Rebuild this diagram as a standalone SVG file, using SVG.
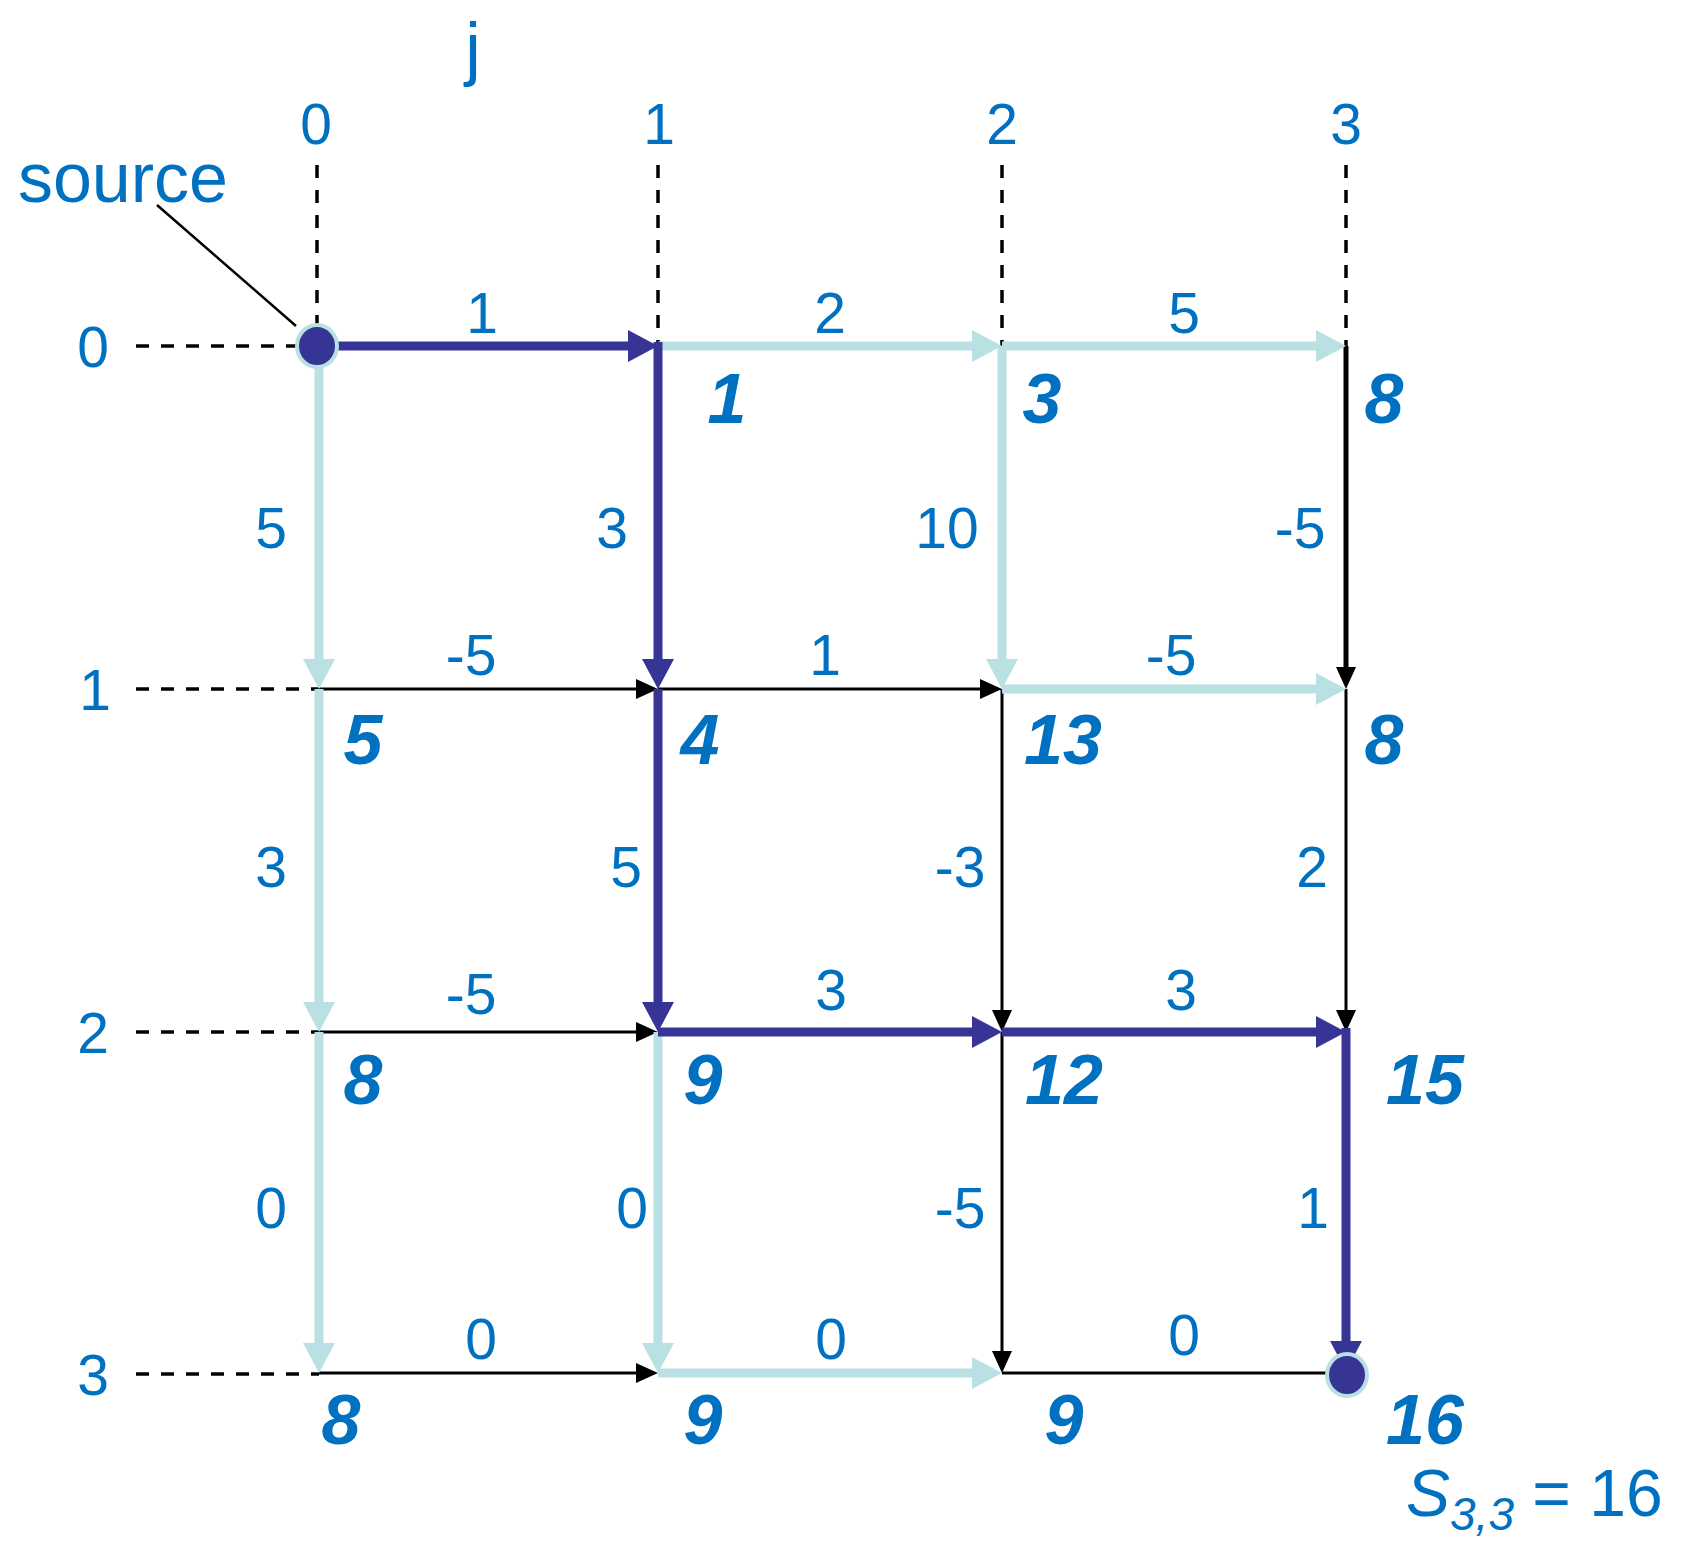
<svg xmlns="http://www.w3.org/2000/svg" width="1681" height="1548" viewBox="0 0 1681 1548">
<style>
.w{font-family:"Liberation Sans",Arial,sans-serif;font-size:57px;fill:#0070C0;text-anchor:middle}
.v{font-family:"Liberation Sans",Arial,sans-serif;font-size:70px;font-weight:bold;font-style:italic;fill:#0070C0;text-anchor:middle}
.guide{stroke:#000;stroke-width:3.5;stroke-dasharray:13 12;fill:none}
.dk{stroke:#363596;stroke-width:9;fill:none}
.lt{stroke:#B9E0E2;stroke-width:9;fill:none}
.bk{stroke:#000;stroke-width:3;fill:none}
.bk5{stroke:#000;stroke-width:5;fill:none}
.dot{fill:#363596;stroke:#B9E0E2;stroke-width:4}
</style>
<defs>
<marker id="aDk" markerUnits="userSpaceOnUse" markerWidth="32" markerHeight="34" refX="10" refY="16" orient="auto" overflow="visible"><path d="M0,0 L30,16 L0,32 z" fill="#363596"/></marker>
<marker id="aLt" markerUnits="userSpaceOnUse" markerWidth="32" markerHeight="34" refX="10" refY="16" orient="auto" overflow="visible"><path d="M0,0 L30,16 L0,32 z" fill="#B9E0E2"/></marker>
<marker id="aBk" markerUnits="userSpaceOnUse" markerWidth="24" markerHeight="22" refX="8" refY="10" orient="auto" overflow="visible"><path d="M0,0 L22,10 L0,20 z" fill="#000"/></marker>
</defs>
<rect width="1681" height="1548" fill="#fff"/>

<g id="guides">
<line class="guide" x1="317" y1="165" x2="317" y2="340"/>
<line class="guide" x1="658" y1="165" x2="658" y2="346"/>
<line class="guide" x1="1002" y1="165" x2="1002" y2="346"/>
<line class="guide" x1="1346" y1="165" x2="1346" y2="346"/>
<line class="guide" x1="136" y1="346" x2="300" y2="346"/>
<line class="guide" x1="136" y1="689" x2="319" y2="689"/>
<line class="guide" x1="136" y1="1032" x2="319" y2="1032"/>
<line class="guide" x1="136" y1="1374" x2="319" y2="1374"/>
<line x1="157" y1="205" x2="296" y2="326" stroke="#000" stroke-width="2.5"/>
</g>

<g id="connectors">
<line class="bk" x1="319" y1="689" x2="644" y2="689" marker-end="url(#aBk)"/>
<line class="bk" x1="658" y1="689" x2="988" y2="689" marker-end="url(#aBk)"/>
<line class="bk" x1="319" y1="1032" x2="644" y2="1032" marker-end="url(#aBk)"/>
<line class="bk" x1="319" y1="1373" x2="644" y2="1373" marker-end="url(#aBk)"/>
<line class="bk" x1="1002" y1="1373" x2="1335" y2="1373"/>
<line class="bk" x1="1002" y1="689" x2="1002" y2="1018" marker-end="url(#aBk)"/>
<line class="bk" x1="1002" y1="1032" x2="1002" y2="1359" marker-end="url(#aBk)"/>
<line class="bk5" x1="1346" y1="346" x2="1346" y2="675" marker-end="url(#aBk)"/>
<line class="bk" x1="1346" y1="689" x2="1346" y2="1018" marker-end="url(#aBk)"/>
<line class="lt" x1="658" y1="346" x2="982" y2="346" marker-end="url(#aLt)"/>
<line class="lt" x1="1002" y1="346" x2="1326" y2="346" marker-end="url(#aLt)"/>
<line class="lt" x1="1002" y1="689" x2="1326" y2="689" marker-end="url(#aLt)"/>
<line class="lt" x1="658" y1="1373" x2="982" y2="1373" marker-end="url(#aLt)"/>
<line class="lt" x1="319" y1="360" x2="319" y2="669" marker-end="url(#aLt)"/>
<line class="lt" x1="319" y1="689" x2="319" y2="1012" marker-end="url(#aLt)"/>
<line class="lt" x1="319" y1="1032" x2="319" y2="1353" marker-end="url(#aLt)"/>
<line class="lt" x1="658" y1="1032" x2="658" y2="1353" marker-end="url(#aLt)"/>
<line class="lt" x1="1002" y1="346" x2="1002" y2="669" marker-end="url(#aLt)"/>
<line class="dk" x1="317" y1="346" x2="638" y2="346" marker-end="url(#aDk)"/>
<line class="dk" x1="658" y1="342" x2="658" y2="669" marker-end="url(#aDk)"/>
<line class="dk" x1="658" y1="689" x2="658" y2="1012" marker-end="url(#aDk)"/>
<line class="dk" x1="658" y1="1032" x2="982" y2="1032" marker-end="url(#aDk)"/>
<line class="dk" x1="1002" y1="1032" x2="1326" y2="1032" marker-end="url(#aDk)"/>
<line class="dk" x1="1346" y1="1028" x2="1346" y2="1351" marker-end="url(#aDk)"/>
</g>

<g id="edge-labels">
<text class="w" x="482" y="333">1</text>
<text class="w" x="830" y="333">2</text>
<text class="w" x="1184" y="333">5</text>
<text class="w" x="471" y="675">-5</text>
<text class="w" x="825" y="675">1</text>
<text class="w" x="1171" y="675">-5</text>
<text class="w" x="471" y="1014">-5</text>
<text class="w" x="831" y="1010">3</text>
<text class="w" x="1181" y="1010">3</text>
<text class="w" x="481" y="1359">0</text>
<text class="w" x="831" y="1359">0</text>
<text class="w" x="1184" y="1355">0</text>
<text class="w" x="271" y="548">5</text>
<text class="w" x="271" y="887">3</text>
<text class="w" x="271" y="1228">0</text>
<text class="w" x="612" y="548">3</text>
<text class="w" x="626" y="887">5</text>
<text class="w" x="632" y="1228">0</text>
<text class="w" x="947" y="548">10</text>
<text class="w" x="960" y="887">-3</text>
<text class="w" x="960" y="1228">-5</text>
<text class="w" x="1300" y="548">-5</text>
<text class="w" x="1312" y="887">2</text>
<text class="w" x="1313" y="1228">1</text>
</g>

<g id="axis-labels">
<text class="w" x="473" y="72" style="font-size:70px">j</text>
<text class="w" x="316" y="144">0</text>
<text class="w" x="659" y="144">1</text>
<text class="w" x="1002" y="144">2</text>
<text class="w" x="1346" y="144">3</text>
<text class="w" x="93" y="367">0</text>
<text class="w" x="95" y="710">1</text>
<text class="w" x="93" y="1053">2</text>
<text class="w" x="93" y="1395">3</text>
<text class="w" x="123" y="202" style="font-size:70px">source</text>
</g>

<g id="node-source"><ellipse class="dot" cx="317" cy="346" rx="20" ry="21"/></g>
<g id="node-sink"><ellipse class="dot" cx="1347" cy="1375" rx="20" ry="21"/></g>

<g id="node-0-1"><text class="v" x="727" y="423">1</text></g>
<g id="node-0-2"><text class="v" x="1042" y="423">3</text></g>
<g id="node-0-3"><text class="v" x="1384" y="423">8</text></g>
<g id="node-1-0"><text class="v" x="363" y="764">5</text></g>
<g id="node-1-1"><text class="v" x="700" y="764">4</text></g>
<g id="node-1-2"><text class="v" x="1063" y="764">13</text></g>
<g id="node-1-3"><text class="v" x="1384" y="764">8</text></g>
<g id="node-2-0"><text class="v" x="363" y="1104">8</text></g>
<g id="node-2-1"><text class="v" x="703" y="1104">9</text></g>
<g id="node-2-2"><text class="v" x="1064" y="1104">12</text></g>
<g id="node-2-3"><text class="v" x="1425" y="1104">15</text></g>
<g id="node-3-0"><text class="v" x="341" y="1444">8</text></g>
<g id="node-3-1"><text class="v" x="703" y="1444">9</text></g>
<g id="node-3-2"><text class="v" x="1064" y="1444">9</text></g>
<g id="node-3-3"><text class="v" x="1425" y="1444">16</text></g>

<g id="result">
<text x="1406" y="1516" style="font-family:'Liberation Sans',Arial,sans-serif;font-size:66px;fill:#0070C0"><tspan font-style="italic">S</tspan><tspan font-style="italic" font-size="46" dy="14">3,3</tspan><tspan dy="-14"> = 16</tspan></text>
</g>
</svg>
